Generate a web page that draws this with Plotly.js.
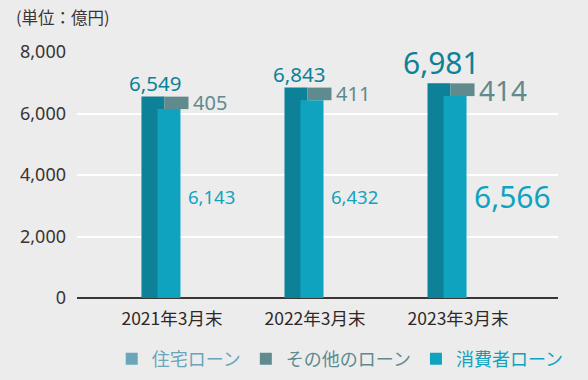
<!DOCTYPE html>
<html>
<head>
<meta charset="utf-8">
<script src="https://cdn.plot.ly/plotly-3.0.1.min.js"></script>
<style>html,body{margin:0;padding:0;background:#ececec;}#chart{width:588px;height:380px;}</style>
</head>
<body>
<div id="chart"></div>
<script>
var categories = ["2021年3月末", "2022年3月末", "2023年3月末"];
var totalLoans = [6549, 6843, 6981];
var otherLoans = [405, 411, 414];
var consumerLoans = [6143, 6432, 6566];
var yTickVals = [0, 2000, 4000, 6000, 8000];
var yTickText = ["0", "2,000", "4,000", "6,000", "8,000"];

var C_TOTAL = "#0c8197", C_CONS = "#10a3bf", C_OTHER = "#5f8a8e", C_HOUSE = "#6aa5ba";
var FONT = "'Noto Sans', 'Noto Sans CJK JP', sans-serif";
var JFONT = "'Noto Sans CJK JP', 'Noto Sans', sans-serif";
var PX = 1/143;

function fmt(v){ return v.toLocaleString("en-US"); }

var traces = [
  {type:"bar", x:categories, y:[null,null,null], name:'<span style="color:'+C_HOUSE+'">住宅ローン</span>',
   marker:{color:C_HOUSE}, hoverinfo:"skip"},
  {type:"bar", x:categories, y:totalLoans, showlegend:false, marker:{color:C_TOTAL},
   offset:-30.5*PX, width:23*PX, hoverinfo:"skip"},
  {type:"bar", x:categories, y:otherLoans, base:consumerLoans, name:'<span style="color:'+C_OTHER+'">その他のローン</span>',
   marker:{color:C_OTHER}, offset:-7.5*PX, width:24*PX, hoverinfo:"skip"},
  {type:"bar", x:categories, y:consumerLoans, name:'<span style="color:'+C_CONS+'">消費者ローン</span>',
   marker:{color:C_CONS}, offset:-14.5*PX, width:23*PX, hoverinfo:"skip"}
];

var totalSizes = [20.5, 20.5, 30], otherSizes = [20, 20, 28], consSizes = [18.5, 18.5, 30];
var annotations = [
  {xref:"paper", yref:"paper", x:-0.13, y:1.142, xanchor:"left", yanchor:"middle", showarrow:false,
   text:"(単位：億円)", font:{family:JFONT, size:16.5, color:"#3b3432"}}
];
for (var i = 0; i < categories.length; i++) {
  annotations.push({x:categories[i], y:totalLoans[i], xref:"x", yref:"y", showarrow:false,
    text:fmt(totalLoans[i]), xanchor:"center", yanchor:"bottom", xshift:-16.5, yshift:-2,
    font:{family:FONT, size:totalSizes[i], color:C_TOTAL}});
  annotations.push({x:categories[i], y:consumerLoans[i] + otherLoans[i]/2, xref:"x", yref:"y", showarrow:false,
    text:fmt(otherLoans[i]), xanchor:"left", yanchor:"middle", xshift:19,
    font:{family:FONT, size:otherSizes[i], color:C_OTHER}});
  annotations.push({x:categories[i], y:3300, xref:"x", yref:"y", showarrow:false,
    text:fmt(consumerLoans[i]), xanchor:"left", yanchor:"middle", xshift:14,
    font:{family:FONT, size:consSizes[i], color:C_CONS}});
}

var layout = {
  width:588, height:380,
  margin:{l:77, r:30, t:52, b:82},
  paper_bgcolor:"#ececec", plot_bgcolor:"#ececec",
  barmode:"overlay",
  showlegend:true,
  legend:{orientation:"h", xref:"container", yref:"container", x:0.19, y:0.055, xanchor:"left", yanchor:"middle",
    font:{family:JFONT, size:18}, bgcolor:"rgba(0,0,0,0)", traceorder:"normal"},
  xaxis:{type:"category", range:[-0.664, 2.699], showgrid:false, zeroline:false,
    showline:false, ticks:"outside", ticklen:5, tickcolor:"rgba(0,0,0,0)",
    tickfont:{family:JFONT, size:17.5, color:"#2f2826"}, fixedrange:true},
  yaxis:{range:[0, 8000], tickvals:yTickVals, ticktext:yTickText, showgrid:true, gridcolor:"#ffffff",
    gridwidth:2, zeroline:true, zerolinecolor:"#3a3432", zerolinewidth:1.5, showline:false, ticks:"",
    ticklabelstandoff:10, tickfont:{family:FONT, size:18, color:"#3b3432"}, fixedrange:true},
  annotations:annotations
};
Plotly.newPlot("chart", traces, layout, {displayModeBar:false, staticPlot:true});
</script>
</body>
</html>
